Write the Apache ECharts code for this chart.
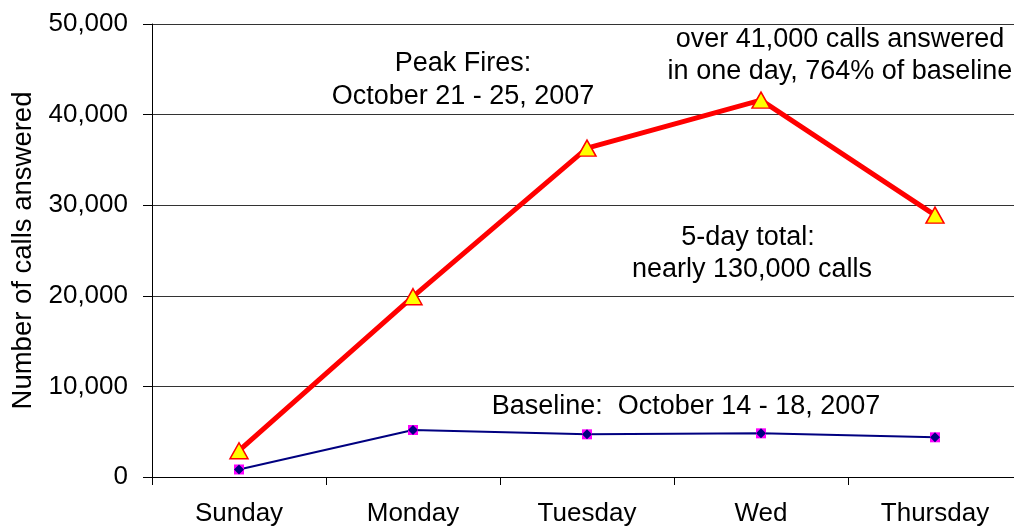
<!DOCTYPE html>
<html>
<head>
<meta charset="utf-8">
<script src="https://cdn.jsdelivr.net/npm/echarts@6/dist/echarts.min.js"></script>
<style>
  html, body { margin: 0; padding: 0; background: #fff; overflow: hidden; }
  /* plot runs a few px past the right edge of the window, like the original */
  #main { width: 1022px; height: 529px; }
</style>
</head>
<body>
<div id="main"></div>
<script>
var days = ['Sunday', 'Monday', 'Tuesday', 'Wed', 'Thursday'];
var peakCalls = [2900, 19900, 36300, 41600, 28900];
var baselineCalls = [830, 5190, 4710, 4820, 4380];
var yTicks = [0, 10000, 20000, 30000, 40000, 50000];

var font = '"Liberation Sans", Arial, sans-serif';

var dom = document.getElementById('main');
var myChart = echarts.init(dom);

function fmt(v) {
    return v.toString().replace(/\B(?=(\d{3})+(?!\d))/g, ',');
}

// free text notes, centred on (x, y)
function note(x, y, txt) {
    return {
        type: 'text',
        x: x,
        y: y,
        style: {
            text: txt,
            font: '27px ' + font,
            fill: '#000',
            align: 'center',
            verticalAlign: 'middle'
        }
    };
}

var option = {
    animation: false,
    grid: { left: 152, top: 24, right: 0, bottom: 52 },
    xAxis: {
        type: 'category',
        data: days,
        boundaryGap: true,
        axisLine: { lineStyle: { color: '#000', width: 1 } },
        axisTick: { show: true, length: 8, inside: false, lineStyle: { color: '#000' } },
        axisLabel: { color: '#000', fontSize: 26, fontFamily: font, margin: 24 }
    },
    yAxis: {
        type: 'value',
        min: yTicks[0],
        max: yTicks[yTicks.length - 1],
        interval: 10000,
        name: 'Number of calls answered',
        nameLocation: 'middle',
        nameGap: 113,
        nameTextStyle: { color: '#000', fontSize: 27.5, fontFamily: font },
        axisLine: { show: true, lineStyle: { color: '#000', width: 1 } },
        axisTick: { show: true, length: 9, lineStyle: { color: '#000' } },
        axisLabel: {
            color: '#000', fontSize: 26, fontFamily: font, margin: 24,
            formatter: function (v) { return fmt(v); }
        },
        splitLine: { show: true, lineStyle: { color: '#333', width: 1 } }
    },
    series: [
        {
            name: 'Baseline',
            type: 'line',
            data: baselineCalls,
            lineStyle: { color: '#000080', width: 2 },
            symbol: 'rect',
            symbolSize: 10,
            itemStyle: { color: '#ff00ff' },
            z: 2
        },
        {
            name: 'Baseline marker',
            type: 'line',
            data: baselineCalls,
            lineStyle: { width: 0 },
            symbol: 'diamond',
            symbolSize: 10,
            itemStyle: { color: '#000080' },
            z: 3
        },
        {
            name: 'Peak',
            type: 'line',
            data: peakCalls,
            lineStyle: { color: '#ff0000', width: 5 },
            symbol: 'triangle',
            symbolSize: [18, 16],
            itemStyle: { color: '#ffff00', borderColor: '#ff0000', borderWidth: 1.5 },
            z: 4
        }
    ],
    graphic: [
        note(463, 64, 'Peak Fires:'),
        note(463, 97, 'October 21 - 25, 2007'),
        note(840, 40, 'over 41,000 calls answered'),
        note(840, 72, 'in one day, 764% of baseline'),
        note(748, 238, '5-day total:'),
        note(752, 270, 'nearly 130,000 calls'),
        note(686, 407, 'Baseline:  October 14 - 18, 2007')
    ]
};

myChart.setOption(option);
</script>
</body>
</html>
